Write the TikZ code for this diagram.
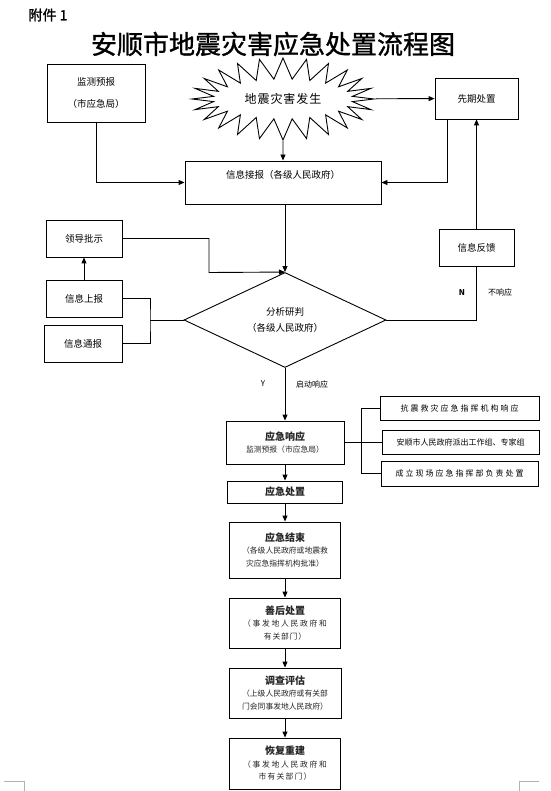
\documentclass[tikz,border=0pt]{standalone}
\usepackage{fontspec}
\setmainfont{Noto Sans CJK SC}
\usetikzlibrary{shapes.geometric}
\usetikzlibrary{shapes.symbols}
\usetikzlibrary{arrows.meta}
\usetikzlibrary{calc}
\newcommand{\spaced}[1]{\addfontfeatures{LetterSpace=#1}}
\newcommand{\stagetitle}[1]{{\bfseries\fontsize{10}{12}\selectfont #1}}

\begin{document}
\begin{tikzpicture}[x=1pt,y=-1pt,
        box/.style={draw,line width=0.9pt,inner sep=1pt,align=center,font=\fontsize{9.5}{12}\selectfont},
        stagebox/.style={box,font=\fontsize{7.8}{12.5}\selectfont,text=black!85},
        link/.style={line width=0.9pt},
        arr/.style={link,-{Triangle[length=6pt,width=5pt]}},
        note/.style={font=\fontsize{8}{10}\selectfont}]
        \path[use as bounding box,fill=white] (0,0) rectangle (550,791);
        \node[font=\fontsize{14}{16}\selectfont] (Attach) at (48,15) {\addfontfeatures{FakeBold=1.5}附件 1};
        \node[font=\fontsize{26}{30}\selectfont] (Title) at (273,44) {\addfontfeatures{FakeBold=1.2}安顺市地震灾害应急处置流程图};

        \node[box,minimum width=98pt,minimum height=58pt] (Monitor) at (96,93) {监测预报\\[10pt]（市应急局）};
        \node[draw,starburst,starburst points=24,starburst point height=21pt,random starburst=0,
            minimum width=182pt,minimum height=82pt,line width=0.9pt,font=\fontsize{12}{14}\selectfont] (Quake) at (283,99) {\spaced{8}地震灾害发生};
        \node[box,minimum width=83pt,minimum height=41pt] (Early) at (476.5,98.5) {先期处置};
        \node[box,minimum width=196pt,inner sep=4pt,text height=14pt,text depth=21pt] (Report) at (283,182.5) {信息接报（各级人民政府）};

        \node[draw,diamond,shape aspect=2.1,line width=0.9pt,minimum width=202pt,minimum height=95pt,inner sep=0pt,
            align=center,font=\fontsize{9.5}{12}\selectfont] (Analyse) at (285,320) {分析研判\\[4pt]（各级人民政府）};
        \node[box,minimum width=75pt,minimum height=37pt] (Feedback) at (476.5,247.5) {信息反馈};
        \node[box,minimum width=76pt,minimum height=37pt] (Lead) at (84,238.5) {领导批示};
        \node[box,minimum width=76pt,minimum height=37pt] (UpReport) at (84,298.5) {信息上报};
        \node[box,minimum width=78pt,minimum height=37pt] (Notify) at (83,343.5) {信息通报};
        \node[note,font=\bfseries\fontsize{8}{10}\selectfont] (NoMark) at (462,293) {N};
        \node[note] (NoResp) at (500,292) {不响应};
        \node[note] (YesMark) at (263,384) {Y};
        \node[note] (YesResp) at (312,384) {启动响应};

        \node[stagebox,minimum width=118pt,minimum height=43pt] (Response) at (285,442.5) {\stagetitle{应急响应}\\ 监测预报（市应急局）};
        \node[box,minimum width=159pt,minimum height=24pt,font=\fontsize{8}{10}\selectfont] (CmdA) at (459.5,408) {\spaced{25}抗震救灾应急指挥机构响应};
        \node[box,minimum width=157pt,minimum height=24pt,font=\fontsize{8}{10}\selectfont] (CmdB) at (460.5,442) {安顺市人民政府派出工作组、专家组};
        \node[box,minimum width=157pt,minimum height=25pt,font=\fontsize{8}{10}\selectfont] (CmdC) at (459.5,473.5) {\spaced{25}成立现场应急指挥部负责处置};
        \node[stagebox,minimum width=115pt,minimum height=22pt] (Handle) at (285,492) {\stagetitle{应急处置}};
        \node[stagebox,minimum width=111pt,minimum height=56pt] (End) at (285,550) {\stagetitle{应急结束}\\ （各级人民政府或地震救\\ 灾应急指挥机构批准）};
        \node[stagebox,minimum width=111pt,minimum height=50pt] (After) at (285,623) {\stagetitle{善后处置}\\ {\spaced{22}（事发地人民政府和}\\ {\spaced{10}有关部门）}};
        \node[stagebox,minimum width=112pt,minimum height=50pt] (Assess) at (285,693) {\stagetitle{调查评估}\\ （上级人民政府或有关部\\ 门会同事发地人民政府）};
        \node[stagebox,minimum width=111pt,minimum height=51pt] (Rebuild) at (285,763.5) {\stagetitle{恢复重建}\\ {\spaced{22}（事发地人民政府和}\\ {\spaced{15}市有关部门）}};

        \draw[arr] (Quake) -- (Early);
        \draw[arr] (Quake) -- (Report);
        \draw[arr] (Monitor.south) |- (Report.west);
        \draw[arr] ([xshift=-29pt]Early.south) |- (Report.east);
        \draw[arr] (Feedback.north) -- (Early.south);
        \draw[link] (Analyse.east) -| (Feedback.south);
        \draw[arr] (Analyse.north |- Report.south) -- (Analyse.north);
        \coordinate (LeadBend) at (209,272.5);
        \draw[arr] (Lead.east) -| (LeadBend) -- (Analyse.north);
        \draw[arr] (UpReport.north) -- (Lead.south);
        \coordinate (Join) at (150,320);
        \draw[link] (UpReport.east) -| (Join) |- (Notify.east);
        \draw[link] (Join) -- (Analyse.west);
        \draw[arr] (Analyse.south) -- (Response.north);
        \coordinate (Fork) at (361,442.5);
        \draw[link] (Response.east) -- (Fork);
        \draw[link] (Fork |- CmdA.west) -- (Fork |- CmdC.west);
        \foreach \cmd in {CmdA,CmdB,CmdC} \draw[link] (Fork |- \cmd.west) -- (\cmd.west);
        \foreach \from/\to in {Response/Handle,Handle/End,End/After,After/Assess,Assess/Rebuild} \draw[arr] (\from) -- (\to);

        \draw[black!30,line width=0.8pt] (4,781) -- (24,781) -- (24,791);
        \draw[black!30,line width=0.8pt] (519,791) -- (519,781) -- (539,781);
    \end{tikzpicture}
\end{document}
